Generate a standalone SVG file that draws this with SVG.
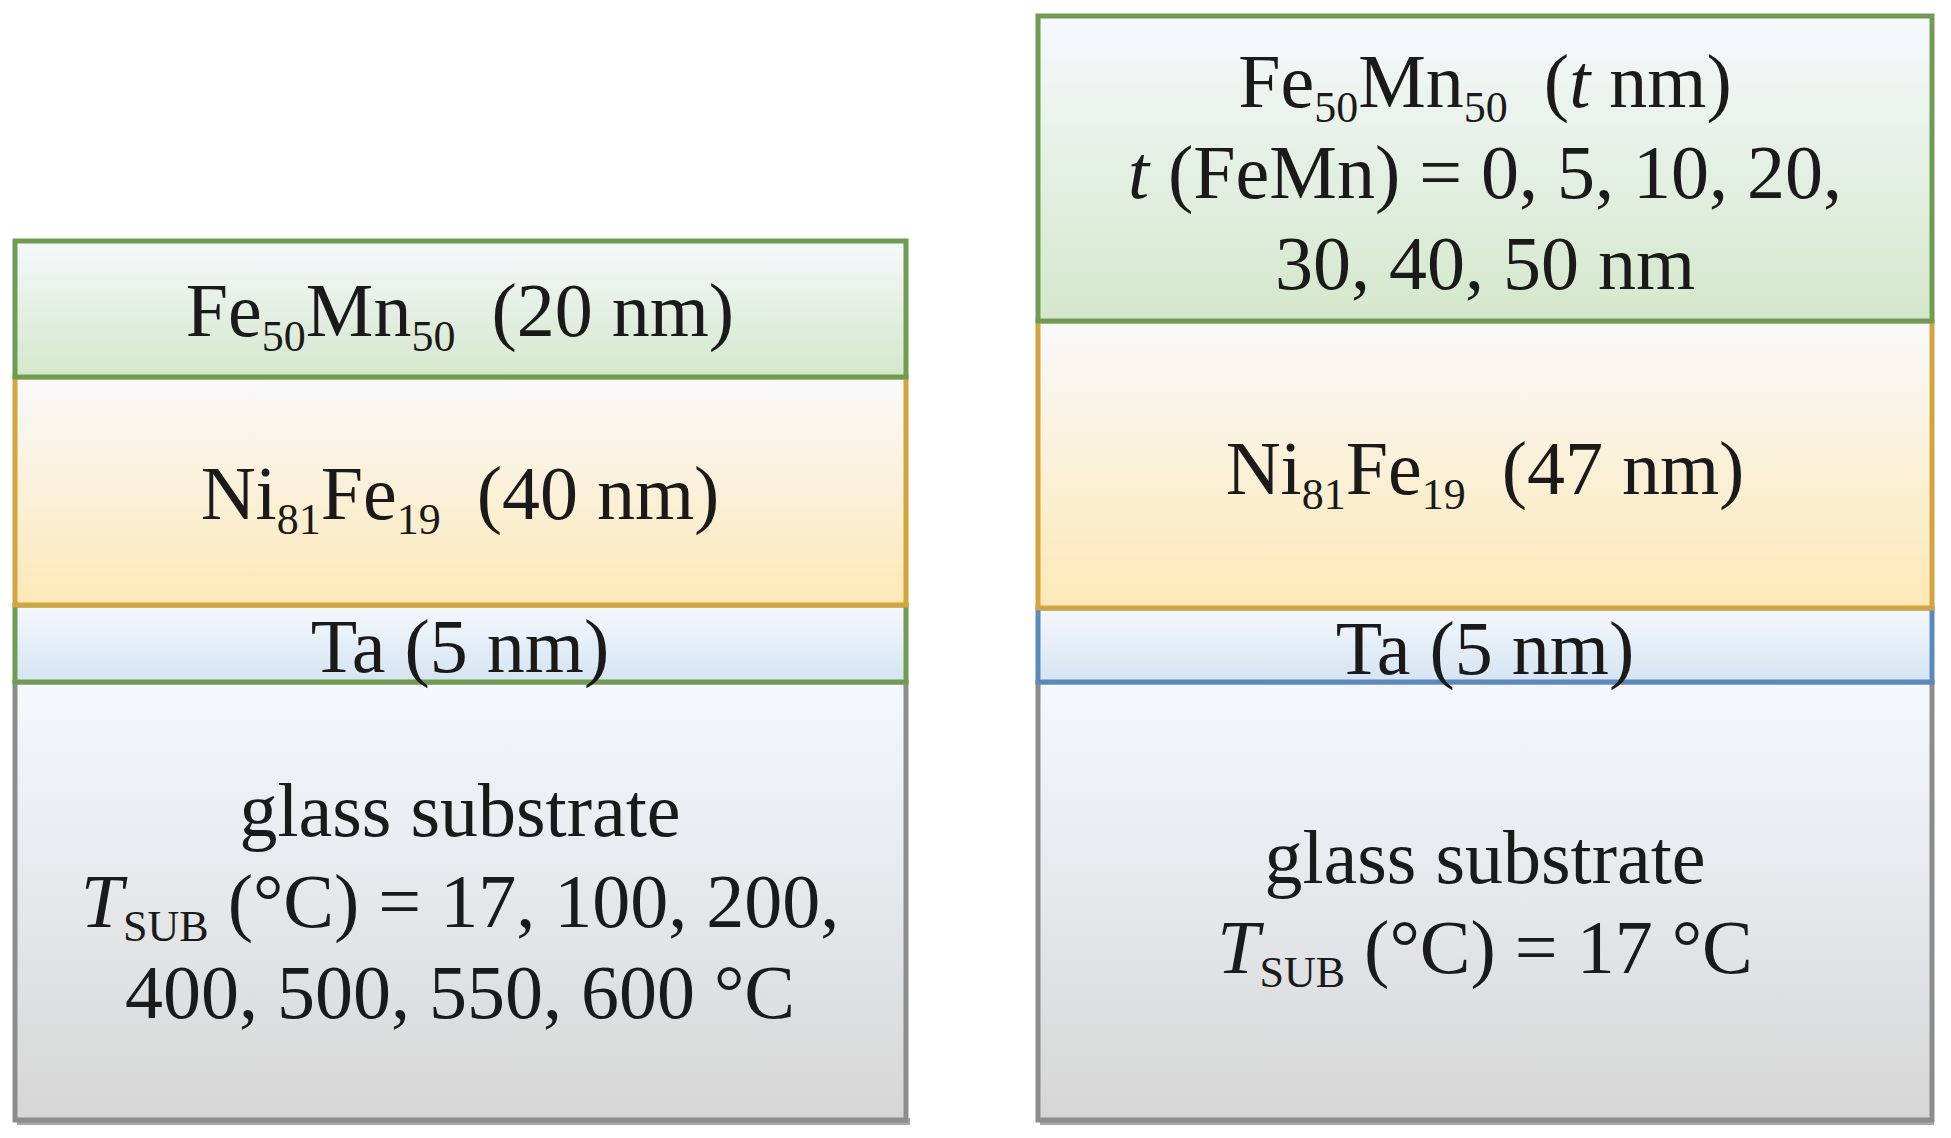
<svg xmlns="http://www.w3.org/2000/svg" width="1951" height="1138" viewBox="0 0 1951 1138">
<defs>
<linearGradient id="gFe" x1="0" y1="0" x2="0" y2="1"><stop offset="0" stop-color="#f5f8fc"/><stop offset="1" stop-color="#d4e7cb"/></linearGradient>
<linearGradient id="gNi" x1="0" y1="0" x2="0" y2="1"><stop offset="0" stop-color="#f8f9fb"/><stop offset="1" stop-color="#fde8b6"/></linearGradient>
<linearGradient id="gTa" x1="0" y1="0" x2="0" y2="1"><stop offset="0" stop-color="#f5f8fc"/><stop offset="1" stop-color="#d5e4f2"/></linearGradient>
<linearGradient id="gGl" x1="0" y1="0" x2="0" y2="1"><stop offset="0" stop-color="#f5f8fc"/><stop offset="1" stop-color="#d6d6d6"/></linearGradient>
</defs>
<style>
.fe{fill:url(#gFe);stroke:#6f9c52;stroke-width:5}
.ni{fill:url(#gNi);stroke:#d4a43e;stroke-width:5}
.taG{fill:url(#gTa);stroke:#6f9c52;stroke-width:5}
.taB{fill:url(#gTa);stroke:#5b89ba;stroke-width:5}
.gl{fill:url(#gGl);stroke:#8c8c8c;stroke-width:5}
.sh{fill:#a8a8a8}
text{font-family:"Liberation Serif","Times New Roman",serif;font-size:76px;fill:#1a1a1a;text-anchor:middle}
.sub{font-size:44px}
.it{font-style:italic}
</style>
<g id="left-stack">
<rect class="sh" x="17" y="1118" width="893" height="7"/>
<g id="left-glass"><rect class="gl" x="15" y="682" width="891" height="438"/>
<text x="460" y="836">glass substrate</text>
<text x="460" y="927"><tspan class="it">T</tspan><tspan class="sub" dy="14">SUB</tspan><tspan dy="-14"> (°C) = 17, 100, 200,</tspan></text>
<text x="460" y="1018">400, 500, 550, 600 °C</text></g>
<g id="left-ta"><rect class="taG" x="15" y="605" width="891" height="77"/>
<text x="460" y="672">Ta (5 nm)</text></g>
<g id="left-ni"><rect class="ni" x="15" y="377" width="891" height="228"/>
<text x="460" y="519">Ni<tspan class="sub" dy="15">81</tspan><tspan dy="-15">Fe</tspan><tspan class="sub" dy="15">19</tspan><tspan dy="-15" dx="36">(40 nm)</tspan></text></g>
<g id="left-fe"><rect class="fe" x="15" y="241" width="891" height="136"/>
<text x="460" y="336">Fe<tspan class="sub" dy="15">50</tspan><tspan dy="-15">Mn</tspan><tspan class="sub" dy="15">50</tspan><tspan dy="-15" dx="36">(20 nm)</tspan></text></g>
</g>
<g id="right-stack">
<rect class="sh" x="1040" y="1118" width="894" height="7"/>
<g id="right-glass"><rect class="gl" x="1038" y="682" width="894" height="438"/>
<text x="1485" y="883">glass substrate</text>
<text x="1485" y="973"><tspan class="it">T</tspan><tspan class="sub" dy="14">SUB</tspan><tspan dy="-14"> (°C) = 17 °C</tspan></text></g>
<g id="right-ta"><rect class="taB" x="1038" y="608" width="894" height="74"/>
<text x="1485" y="674">Ta (5 nm)</text></g>
<g id="right-ni"><rect class="ni" x="1038" y="321" width="894" height="287"/>
<text x="1485" y="494">Ni<tspan class="sub" dy="15">81</tspan><tspan dy="-15">Fe</tspan><tspan class="sub" dy="15">19</tspan><tspan dy="-15" dx="36">(47 nm)</tspan></text></g>
<g id="right-fe"><rect class="fe" x="1038" y="16" width="894" height="305"/>
<text x="1485" y="107">Fe<tspan class="sub" dy="15">50</tspan><tspan dy="-15">Mn</tspan><tspan class="sub" dy="15">50</tspan><tspan dy="-15" dx="36">(</tspan><tspan class="it">t</tspan><tspan> nm)</tspan></text>
<text x="1485" y="198"><tspan class="it">t</tspan> (FeMn) = 0, 5, 10, 20,</text>
<text x="1485" y="289">30, 40, 50 nm</text></g>
</g>
</svg>
